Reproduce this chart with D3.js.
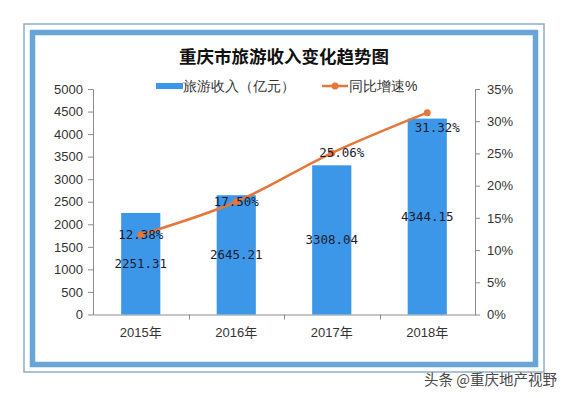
<!DOCTYPE html>
<html>
<head>
<meta charset="utf-8">
<script src="https://cdn.jsdelivr.net/npm/d3@7"></script>
<style>
  body { margin: 0; background: #fff; }
  text { font-family: "Liberation Sans", Arial, sans-serif; }
</style>
</head>
<body>
<div id="chart"></div>
<script>
const years = ['2015年', '2016年', '2017年', '2018年'];
const income = [2251.31, 2645.21, 3308.04, 4344.15];
const growth = [12.38, 17.50, 25.06, 31.32];
const leftTicks = [0, 500, 1000, 1500, 2000, 2500, 3000, 3500, 4000, 4500, 5000];
const rightTicks = [0, 5, 10, 15, 20, 25, 30, 35];

const W = 569, H = 398;
const cjk = '"Noto Sans CJK SC", sans-serif';
const mono = '"DejaVu Sans Mono", monospace';
const barColor = '#3c97e8';
const lineColor = '#e5773a';

const svg = d3.select('#chart').append('svg')
  .attr('width', W)
  .attr('height', H);

svg.append('rect').attr('width', W).attr('height', H).attr('fill', '#fff');

// frame
svg.append('rect')
  .attr('x', 24).attr('y', 24).attr('width', 520).attr('height', 348)
  .attr('fill', 'none').attr('stroke', '#8eaec8').attr('stroke-width', 1.5);
svg.append('rect')
  .attr('x', 32.5).attr('y', 32.5).attr('width', 503).attr('height', 332)
  .attr('fill', 'none').attr('stroke', '#6aa5d8').attr('stroke-width', 5.5);

// title
svg.append('text')
  .attr('x', 284).attr('y', 63)
  .attr('text-anchor', 'middle')
  .style('font-family', cjk).style('font-weight', 700).style('font-size', '17.5px')
  .attr('fill', '#111')
  .text('重庆市旅游收入变化趋势图');

const x = d3.scaleBand()
  .domain(years)
  .range([93, 475])
  .paddingInner(0.59)
  .paddingOuter(0.295);

const y = d3.scaleLinear().domain([0, 5000]).range([314.5, 89]);
const y2 = d3.scaleLinear().domain([0, 35]).range([314.5, 89]);

// axes
const styleAxis = g => {
  g.select('.domain').attr('stroke', '#8c8c8c');
  g.selectAll('.tick line').attr('stroke', '#8c8c8c');
  g.selectAll('.tick text').attr('fill', '#333').style('font-size', '13px');
};

svg.append('g')
  .attr('transform', 'translate(93,0)')
  .call(d3.axisLeft(y).tickValues(leftTicks).tickFormat(d3.format('d'))
    .tickSize(5).tickPadding(5).tickSizeOuter(0))
  .call(styleAxis);

svg.append('g')
  .attr('transform', 'translate(475,0)')
  .call(d3.axisRight(y2).tickValues(rightTicks).tickSize(5).tickPadding(7)
    .tickFormat(d => d + '%').tickSizeOuter(0))
  .call(styleAxis);

const xAxis = svg.append('g')
  .attr('transform', 'translate(0,314.5)')
  .call(d3.axisBottom(x).tickSize(0).tickPadding(13))
  .call(styleAxis);
xAxis.selectAll('.tick text').style('font-family', '"Liberation Sans", ' + cjk);

// category boundary ticks
svg.append('g').selectAll('line')
  .data(years.slice(1))
  .join('line')
  .attr('x1', d => Math.round(x(d) - x.step() * x.paddingInner() / 2) + 0.5)
  .attr('x2', d => Math.round(x(d) - x.step() * x.paddingInner() / 2) + 0.5)
  .attr('y1', 314.5).attr('y2', 319.5)
  .attr('stroke', '#8c8c8c');

// bars
svg.append('g').selectAll('rect')
  .data(income)
  .join('rect')
  .attr('x', (d, i) => x(years[i]))
  .attr('y', d => y(d))
  .attr('width', x.bandwidth())
  .attr('height', d => y(0) - y(d))
  .attr('fill', barColor);

svg.append('g').selectAll('text')
  .data(income)
  .join('text')
  .attr('x', (d, i) => x(years[i]) + x.bandwidth() / 2)
  .attr('y', d => (y(d) + y(0)) / 2)
  .attr('dy', '0.35em')
  .attr('text-anchor', 'middle')
  .style('font-family', mono).style('font-size', '12.5px')
  .attr('fill', '#1c1c30')
  .text(d => d.toFixed(2));

// growth line
const px = (d, i) => x(years[i]) + x.bandwidth() / 2;
const line = d3.line()
  .x(px)
  .y(d => y2(d))
  .curve(d3.curveCatmullRom.alpha(0.5));

svg.append('path')
  .datum(growth)
  .attr('fill', 'none')
  .attr('stroke', lineColor)
  .attr('stroke-width', 2.5)
  .attr('d', line);

svg.append('g').selectAll('circle')
  .data(growth)
  .join('circle')
  .attr('cx', px)
  .attr('cy', d => y2(d))
  .attr('r', 3.5)
  .attr('fill', lineColor);

svg.append('g').selectAll('text')
  .data(growth)
  .join('text')
  .attr('x', (d, i) => px(d, i) + (i >= 2 ? 10 : 0))
  .attr('y', (d, i) => y2(d) + (i === growth.length - 1 ? 15 : 0))
  .attr('dy', '0.35em')
  .attr('text-anchor', 'middle')
  .style('font-family', mono).style('font-size', '12.5px')
  .attr('fill', '#1c1c30')
  .text(d => d.toFixed(2) + '%');

// legend
const legend = svg.append('g').style('font-family', cjk).style('font-size', '14px').attr('fill', '#333');
legend.append('rect')
  .attr('x', 156).attr('y', 83).attr('width', 27).attr('height', 6)
  .attr('fill', barColor);
legend.append('text')
  .attr('x', 183).attr('y', 86).attr('dy', '0.35em')
  .text('旅游收入（亿元）');
legend.append('line')
  .attr('x1', 322).attr('x2', 348).attr('y1', 86).attr('y2', 86)
  .attr('stroke', lineColor).attr('stroke-width', 2.5);
legend.append('circle')
  .attr('cx', 335).attr('cy', 86).attr('r', 3.5).attr('fill', lineColor);
legend.append('text')
  .attr('x', 349).attr('y', 86).attr('dy', '0.35em')
  .text('同比增速%');

// footer
svg.append('text')
  .attr('x', 557).attr('y', 380).attr('dy', '0.35em')
  .attr('text-anchor', 'end')
  .style('font-family', cjk).style('font-size', '14.5px')
  .attr('fill', '#4a4a4a')
  .text('头条 @重庆地产视野');
</script>
</body>
</html>
